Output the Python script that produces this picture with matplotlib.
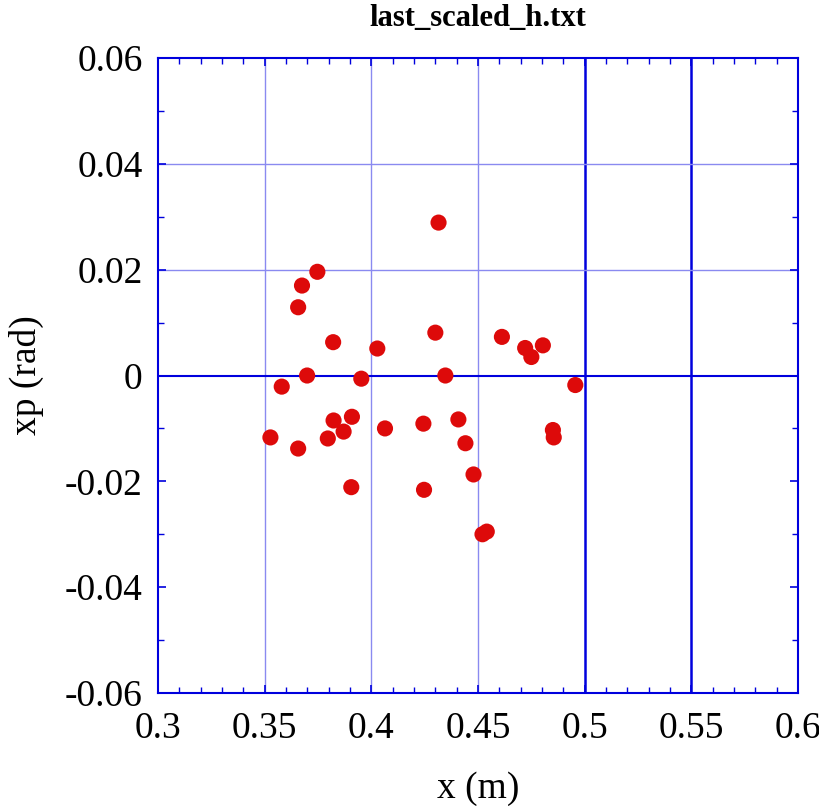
import matplotlib.pyplot as plt
from matplotlib.ticker import MultipleLocator

# ---------------------------------------------------------------------------
# Data
# ---------------------------------------------------------------------------

x_m = [
    0.4315, 0.3747, 0.3675, 0.3657, 0.3821, 0.4028, 0.4300, 0.4612,
    0.4721, 0.4804, 0.4750, 0.3699, 0.3953, 0.4347, 0.3580, 0.4956,
    0.3527, 0.3657, 0.3823, 0.3909, 0.3870, 0.3796, 0.4064, 0.4244,
    0.4408, 0.4441, 0.4851, 0.4855, 0.4479, 0.3906, 0.4247, 0.4521,
    0.4541,
]
xp_rad = [
    0.0289, 0.0196, 0.0170, 0.0129, 0.0063, 0.0051, 0.0081, 0.0073,
    0.0052, 0.0057, 0.0035, 0.0000, -0.0006, 0.0000, -0.0021, -0.0018,
    -0.0117, -0.0138, -0.0085, -0.0078, -0.0106, -0.0119, -0.0100, -0.0091,
    -0.0083, -0.0128, -0.0103, -0.0117, -0.0187, -0.0211, -0.0216, -0.0300,
    -0.0295,
]

X_LIGHT_GRID = [0.35, 0.40, 0.45]
X_DARK_GRID = [0.50, 0.55]
Y_LIGHT_GRID = [0.02, 0.04]
Y_DARK_GRID = [0.0]

BLUE = "#0000dd"
LIGHT_BLUE = "#8a8af0"
RED = "#dd0a0a"

plt.rcParams["font.family"] = ["Liberation Serif", "DejaVu Serif"]

fig = plt.figure(figsize=(8.19, 8.06), dpi=100)
ax = fig.add_axes([0.1929, 0.1402, 0.7815, 0.7878])

# grid: light lines at some positions, heavier ones at others
for xv in X_LIGHT_GRID:
    ax.axvline(xv, color=LIGHT_BLUE, lw=1.0, zorder=1)
for xv in X_DARK_GRID:
    ax.axvline(xv, color=BLUE, lw=1.8, zorder=1)
for yv in Y_LIGHT_GRID:
    ax.axhline(yv, color=LIGHT_BLUE, lw=1.0, zorder=1)
for yv in Y_DARK_GRID:
    ax.axhline(yv, color=BLUE, lw=1.5, zorder=1)

ax.scatter(x_m, xp_rad, s=135, color=RED, edgecolors="none", zorder=3)

ax.set_xlim(0.3, 0.6)
ax.set_ylim(-0.06, 0.06)
ax.xaxis.set_major_locator(MultipleLocator(0.05))
ax.xaxis.set_minor_locator(MultipleLocator(0.01))
ax.yaxis.set_major_locator(MultipleLocator(0.02))
ax.yaxis.set_minor_locator(MultipleLocator(0.01))

ax.set_xticklabels([f"{v:g}" for v in ax.get_xticks()])
ax.set_yticklabels([f"{v:g}" for v in ax.get_yticks()])

for spine in ax.spines.values():
    spine.set_color(BLUE)
    spine.set_linewidth(1.5)

ax.tick_params(which="both", direction="in", top=True, right=True,
               color=BLUE, labelsize=27)
ax.tick_params(axis="x", pad=13)
ax.tick_params(axis="y", pad=11)
ax.tick_params(which="major", length=6, width=1.2)
ax.tick_params(which="minor", length=4, width=1.0)

ax.set_xlabel("x (m)", fontsize=27, va="center")
ax.xaxis.set_label_coords(0.5, -0.151)
ax.set_ylabel("xp (rad)", fontsize=27, va="center")
ax.yaxis.set_label_coords(-0.206, 0.5)
ax.set_title("last_scaled_h.txt", fontsize=22, fontweight="bold",
             y=1.063, va="center", pad=0)

fig.savefig("out.png", dpi=100)
